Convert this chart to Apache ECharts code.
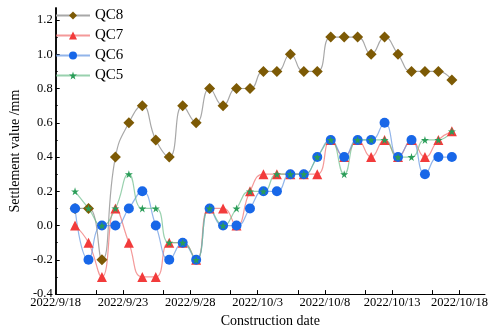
<!DOCTYPE html>
<html>
<head>
<meta charset="utf-8">
<script src="https://cdn.jsdelivr.net/npm/echarts@6/dist/echarts.min.js"></script>
<style>
  html, body { margin: 0; padding: 0; background: #fff; }
  #chart { width: 491px; height: 333px; }
</style>
</head>
<body>
<div id="chart"></div>
<script>
// measurement times
var dates = [
  '2022-09-19T10:30', '2022-09-20T10:30', '2022-09-21T10:30', '2022-09-22T10:30',
  '2022-09-23T10:30', '2022-09-24T10:30', '2022-09-25T10:30', '2022-09-26T10:30',
  '2022-09-27T10:30', '2022-09-28T10:30', '2022-09-29T10:30', '2022-09-30T10:30',
  '2022-10-01T10:30', '2022-10-02T10:30', '2022-10-03T10:30', '2022-10-04T10:30',
  '2022-10-05T10:30', '2022-10-06T10:30', '2022-10-07T10:30', '2022-10-08T10:30',
  '2022-10-09T10:30', '2022-10-10T10:30', '2022-10-11T10:30', '2022-10-12T10:30',
  '2022-10-13T10:30', '2022-10-14T10:30', '2022-10-15T10:30', '2022-10-16T10:30',
  '2022-10-17T10:30'
];
var qc8 = [0.1, 0.1, -0.2, 0.4, 0.6, 0.7, 0.5, 0.4, 0.7, 0.6, 0.8, 0.7, 0.8, 0.8, 0.9,
  0.9, 1.0, 0.9, 0.9, 1.1, 1.1, 1.1, 1.0, 1.1, 1.0, 0.9, 0.9, 0.9, 0.85];
var qc7 = [0.0, -0.1, -0.3, 0.1, -0.1, -0.3, -0.3, -0.1, -0.1, -0.2, 0.1, 0.1, 0.0, 0.2, 0.3,
  0.3, 0.3, 0.3, 0.3, 0.5, 0.4, 0.5, 0.4, 0.5, 0.4, 0.5, 0.4, 0.5, 0.55];
var qc6 = [0.1, -0.2, 0.0, 0.0, 0.1, 0.2, 0.0, -0.2, -0.1, -0.2, 0.1, 0.0, 0.0, 0.1, 0.2,
  0.2, 0.3, 0.3, 0.4, 0.5, 0.4, 0.5, 0.5, 0.6, 0.4, 0.5, 0.3, 0.4, 0.4];
var qc5 = [0.2, 0.1, 0.0, 0.1, 0.3, 0.1, 0.1, -0.1, -0.1, -0.2, 0.1, 0.0, 0.1, 0.2, 0.2,
  0.3, 0.3, 0.3, 0.4, 0.5, 0.3, 0.5, 0.5, 0.5, 0.4, 0.4, 0.5, 0.5, 0.55];

// axis ticks (x in days after 2022/9/18)
var xMajor = [0, 5, 10, 15, 20, 25, 30];
var xTicks = [0, 3, 5, 8, 10, 13, 15, 18, 20, 23, 25, 28, 30];
var yMajor = [-0.4, -0.2, 0, 0.2, 0.4, 0.6, 0.8, 1.0, 1.2];
var yMinor = [-0.3, -0.1, 0.1, 0.3, 0.5, 0.7, 0.9, 1.1];

var base = new Date('2022-09-18T00:00').getTime();
function dayOf(s) { return (new Date(s).getTime() - base) / 86400000; }
function pairs(vals) { return vals.map(function (v, i) { return [dayOf(dates[i]), v]; }); }

var font = '"Liberation Serif", "Times New Roman", serif';
var star = 'path://M50,0 L61,35 L98,35 L68,57 L79,91 L50,70 L21,91 L32,57 L2,35 L39,35 Z';

function mkSeries(name, vals, symbol, size, markColor, lineColor) {
  return {
    name: name,
    type: 'line',
    data: pairs(vals),
    smooth: 0.5,
    symbol: symbol,
    symbolSize: size,
    showAllSymbol: true,
    itemStyle: { color: markColor },
    lineStyle: { color: lineColor, width: 1.2 },
    animation: false
  };
}

var chart = echarts.init(document.getElementById('chart'));
chart.setOption({
  backgroundColor: '#fff',
  grid: { left: 40, right: 6, top: 8, bottom: 31 },
  legend: {
    orient: 'vertical',
    left: 50,
    top: 3,
    itemWidth: 34,
    itemHeight: 10,
    itemGap: 5,
    textStyle: { fontFamily: font, fontSize: 15, color: '#000' },
    data: ['QC8', 'QC7', 'QC6', 'QC5']
  },
  xAxis: {
    type: 'value',
    min: 0,
    max: 31.9,
    name: 'Construction date',
    nameLocation: 'middle',
    nameGap: 17,
    nameTextStyle: { fontFamily: font, fontSize: 14, color: '#000' },
    axisLine: { onZero: false, lineStyle: { color: '#000', width: 1 } },
    axisTick: { inside: true, length: 4, customValues: xTicks, lineStyle: { color: '#000' } },
    axisLabel: {
      customValues: xMajor,
      margin: 2,
      fontFamily: font, fontSize: 12.5, color: '#000',
      formatter: function (v) {
        var d = new Date(base + v * 86400000);
        return d.getFullYear() + '/' + (d.getMonth() + 1) + '/' + d.getDate();
      }
    },
    splitLine: { show: false }
  },
  yAxis: [{
    type: 'value',
    min: -0.4,
    max: 1.27,
    position: 'left',
    name: 'Settlement value /mm',
    nameLocation: 'middle',
    nameGap: 26,
    nameTextStyle: { fontFamily: font, fontSize: 14, color: '#000' },
    axisLine: { show: true, onZero: false, lineStyle: { color: '#000', width: 1.5 } },
    axisTick: { show: true, inside: true, length: 4, customValues: yMajor, lineStyle: { color: '#000' } },
    axisLabel: {
      customValues: yMajor,
      margin: 3,
      fontFamily: font, fontSize: 12.5, color: '#000',
      formatter: function (v) { return v.toFixed(1); }
    },
    splitLine: { show: false }
  }, {
    type: 'value',
    min: -0.4,
    max: 1.27,
    position: 'left',
    axisLine: { show: true, onZero: false, lineStyle: { color: '#000', width: 1.5 } },
    axisTick: { show: true, inside: true, length: 2, customValues: yMinor, lineStyle: { color: '#000' } },
    axisLabel: { show: false },
    splitLine: { show: false }
  }],
  series: [
    mkSeries('QC8', qc8, 'diamond', 11, '#7d5a05', '#a8a8a8'),
    mkSeries('QC7', qc7, 'triangle', 10, '#f23b3b', 'rgba(240,110,110,0.7)'),
    mkSeries('QC6', qc6, 'circle', 10, '#1867e8', 'rgba(100,150,225,0.7)'),
    mkSeries('QC5', qc5, star, 8, '#2a9d58', 'rgba(110,190,140,0.7)')
  ]
});
</script>
</body>
</html>
